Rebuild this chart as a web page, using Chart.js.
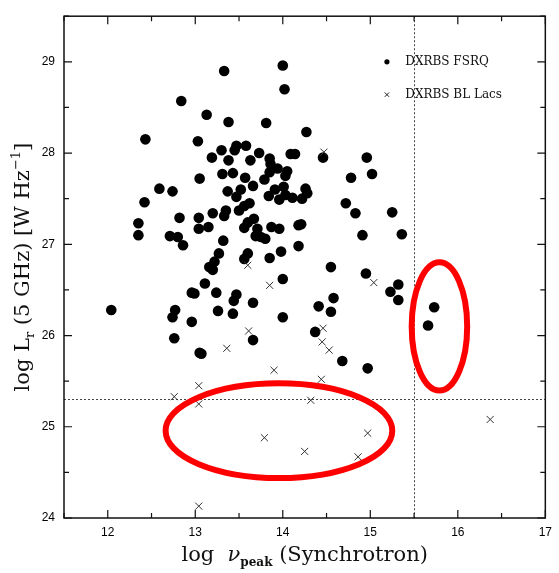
<!DOCTYPE html>
<html>
<head>
<meta charset="utf-8">
<script src="https://cdn.jsdelivr.net/npm/chart.js@4.4.1/dist/chart.umd.min.js"></script>
<style>
  html, body { margin: 0; padding: 0; background: #fff; }
  canvas { display: block; }
</style>
</head>
<body>
<canvas id="chart" width="559" height="573"></canvas>
<script>
// DXRBS FSRQs: log synchrotron peak frequency and log 5 GHz radio luminosity
const fsrqLogNu = [
  12.04, 12.35, 12.35, 12.42, 12.43, 12.59, 12.74, 12.71, 12.82, 12.80,
  12.86, 12.84, 12.77, 12.74, 12.76, 12.96, 12.96, 12.99, 13.03, 13.05,
  13.04, 13.04, 13.05, 13.07, 13.13, 13.11, 13.15, 13.16, 13.20, 13.22,
  13.27, 13.20, 13.19, 13.24, 13.26, 13.32, 13.30, 13.31, 13.33, 13.33,
  13.35, 13.38, 13.37, 13.38, 13.43, 13.43, 13.44, 13.47, 13.45, 13.47,
  13.47, 13.52, 13.50, 13.56, 13.62, 13.56, 13.57, 13.58, 13.63, 13.60,
  13.67, 13.66, 13.60, 13.56, 13.66, 13.66, 13.71, 13.69, 13.75, 13.80,
  13.73, 13.79, 13.81, 13.84, 13.85, 13.86, 13.85, 13.85, 13.87, 13.91,
  13.96, 13.96, 13.94, 13.98, 14.00, 14.00, 14.00, 14.02, 14.01, 14.03,
  14.05, 14.03, 14.09, 14.14, 14.11, 14.18, 14.18, 14.21, 14.22, 14.26,
  14.28, 14.27, 14.37, 14.41, 14.46, 14.55, 14.55, 14.58, 14.68, 14.72,
  14.78, 14.83, 14.91, 14.96, 14.95, 14.97, 15.02, 15.25, 15.23, 15.32,
  15.32, 15.36, 15.73, 15.66
];
const fsrqLogL = [
  26.28, 27.23, 27.10, 27.46, 28.15, 27.61, 27.58, 27.09, 27.29, 27.08,
  26.99, 28.57, 26.28, 26.20, 25.97, 26.15, 26.47, 26.46, 28.13, 27.72,
  27.29, 27.17, 25.81, 25.80, 28.42, 26.57, 27.19, 26.75, 26.72, 26.81,
  26.90, 27.34, 27.95, 26.47, 26.27, 27.04, 28.03, 27.77, 28.90, 27.31,
  27.37, 28.34, 27.58, 27.92, 27.78, 26.24, 26.38, 26.45, 28.03, 28.08,
  27.52, 27.60, 27.37, 27.42, 27.45, 27.18, 27.73, 28.08, 27.92, 27.24,
  27.28, 27.64, 26.90, 26.84, 26.36, 25.95, 27.17, 27.09, 27.08, 27.06,
  28.00, 27.71, 28.33, 27.53, 27.94, 27.88, 27.79, 26.85, 27.19, 27.60,
  27.49, 27.17, 27.83, 26.92, 26.62, 26.20, 28.96, 28.70, 27.63, 27.54,
  27.80, 27.75, 27.99, 27.99, 27.51, 26.98, 27.21, 27.22, 27.50, 27.61,
  27.56, 28.23, 26.04, 26.32, 27.95, 26.75, 26.26, 26.41, 25.72, 27.45,
  27.73, 27.34, 27.10, 27.95, 26.68, 25.64, 27.77, 27.35, 26.48, 26.56,
  26.39, 27.11, 26.31, 26.11
];

// DXRBS BL Lacs
const bllacLogNu = [
  14.47, 13.60, 13.85, 15.04, 13.61, 13.36, 14.46, 14.45, 14.53, 13.90,
  14.44, 13.04, 12.76, 13.04, 14.32, 13.79, 14.25, 14.86, 14.97, 16.37,
  13.04
];
const bllacLogL = [
  28.01, 26.77, 26.55, 26.58, 26.05, 25.86, 26.08, 25.93, 25.84, 25.62,
  25.52, 25.45, 25.33, 25.25, 25.29, 24.88, 24.73, 24.67, 24.93, 25.08,
  24.13
];

const seriesNames = ['DXRBS FSRQ', 'DXRBS BL Lacs'];
const xTickLabels = ['12', '13', '14', '15', '16', '17'];
const yTickLabels = ['24', '25', '26', '27', '28', '29'];

// dividing lines in frequency and luminosity
const nuDivide = 15.5;
const lumDivide = 25.3;

// highlighted groups (centre and semi-axes in data units)
const highlightRegions = [
  { cx: 13.956, cy: 24.957, rx: 1.295, ry: 0.519 },
  { cx: 15.79, cy: 26.10, rx: 0.317, ry: 0.702 }
];

const SERIF = '"DejaVu Serif", "Liberation Serif", serif';
const SANS = '"Liberation Sans", Arial, sans-serif';

function toPoints(xs, ys) {
  return xs.map((x, i) => ({ x: x, y: ys[i] }));
}

function isWhole(v) {
  return Math.abs(v - Math.round(v)) < 1e-6;
}

// draws a line of text made of segments with different fonts / offsets, centred at cx
function drawRich(ctx, segs, cx, baseline) {
  let total = 0;
  segs.forEach(s => { ctx.font = s.font; s.w = ctx.measureText(s.text).width; total += s.w; });
  let x = cx - total / 2;
  ctx.textAlign = 'left';
  ctx.textBaseline = 'alphabetic';
  segs.forEach(s => {
    ctx.font = s.font;
    ctx.fillText(s.text, x, baseline + (s.dy || 0));
    x += s.w;
  });
}

const decorations = {
  id: 'decorations',
  beforeDraw(chart) {
    const ctx = chart.ctx;
    ctx.save();
    ctx.fillStyle = '#fff';
    ctx.fillRect(0, 0, chart.width, chart.height);
    ctx.restore();
  },
  beforeDatasetsDraw(chart) {
    const { ctx, chartArea: a, scales: { x, y } } = chart;
    ctx.save();
    ctx.strokeStyle = '#444';
    ctx.lineWidth = 1;
    ctx.setLineDash([2, 2]);
    const px = Math.round(x.getPixelForValue(nuDivide)) + 0.5;
    const py = Math.round(y.getPixelForValue(lumDivide)) + 0.5;
    ctx.beginPath();
    ctx.moveTo(px, a.top); ctx.lineTo(px, a.bottom);
    ctx.moveTo(a.left, py); ctx.lineTo(a.right, py);
    ctx.stroke();
    ctx.restore();
  },
  afterDraw(chart) {
    const { ctx, chartArea: a, scales: { x, y } } = chart;
    ctx.save();

    // frame
    ctx.strokeStyle = '#111';
    ctx.lineWidth = 1.5;
    ctx.strokeRect(a.left, a.top, a.right - a.left, a.bottom - a.top);

    // inward tick marks on all four sides
    ctx.lineWidth = 1.2;
    ctx.beginPath();
    x.ticks.forEach(t => {
      const len = isWhole(t.value) ? 8 : 5;
      const px = x.getPixelForValue(t.value);
      ctx.moveTo(px, a.bottom); ctx.lineTo(px, a.bottom - len);
      ctx.moveTo(px, a.top); ctx.lineTo(px, a.top + len);
    });
    y.ticks.forEach(t => {
      const len = isWhole(t.value) ? 8 : 5;
      const py = y.getPixelForValue(t.value);
      ctx.moveTo(a.left, py); ctx.lineTo(a.left + len, py);
      ctx.moveTo(a.right, py); ctx.lineTo(a.right - len, py);
    });
    ctx.stroke();

    // legend
    const lx = x.getPixelForValue(15.19);
    const tx = x.getPixelForValue(15.40);
    const ly1 = y.getPixelForValue(29.0);
    const ly2 = y.getPixelForValue(28.64);
    ctx.fillStyle = '#000';
    ctx.beginPath();
    ctx.arc(lx, ly1, 2.6, 0, Math.PI * 2);
    ctx.fill();
    ctx.strokeStyle = '#222';
    ctx.lineWidth = 1;
    ctx.beginPath();
    ctx.moveTo(lx - 2.2, ly2 - 2.2); ctx.lineTo(lx + 2.2, ly2 + 2.2);
    ctx.moveTo(lx - 2.2, ly2 + 2.2); ctx.lineTo(lx + 2.2, ly2 - 2.2);
    ctx.stroke();
    ctx.fillStyle = '#111';
    ctx.font = '12px ' + SERIF;
    ctx.textAlign = 'left';
    ctx.textBaseline = 'middle';
    ctx.fillText(seriesNames[0], tx, ly1);
    ctx.fillText(seriesNames[1], tx, ly2);

    // axis titles
    ctx.fillStyle = '#111';
    const big = '21px ' + SERIF;
    const small = 'bold 12px ' + SERIF;
    const smallN = '13px ' + SERIF;
    drawRich(ctx, [
      { text: 'log  ', font: big },
      { text: 'ν', font: 'italic 21px ' + SERIF },
      { text: 'peak', font: small, dy: 5 },
      { text: ' (Synchrotron)', font: big }
    ], (a.left + a.right) / 2, 561);

    ctx.save();
    ctx.translate(29, (a.top + a.bottom) / 2);
    ctx.rotate(-Math.PI / 2);
    drawRich(ctx, [
      { text: 'log L', font: big },
      { text: 'r', font: smallN, dy: 5 },
      { text: ' (5 GHz) [W Hz', font: big },
      { text: '−1', font: smallN, dy: -9 },
      { text: ']', font: big }
    ], 0, 0);
    ctx.restore();

    // highlighted groups
    ctx.strokeStyle = '#ff0000';
    ctx.lineWidth = 6;
    highlightRegions.forEach(r => {
      const cx = x.getPixelForValue(r.cx);
      const cy = y.getPixelForValue(r.cy);
      const rx = Math.abs(x.getPixelForValue(r.cx + r.rx) - cx);
      const ry = Math.abs(y.getPixelForValue(r.cy + r.ry) - cy);
      ctx.beginPath();
      ctx.ellipse(cx, cy, rx, ry, 0, 0, Math.PI * 2);
      ctx.stroke();
    });

    ctx.restore();
  }
};

new Chart(document.getElementById('chart'), {
  type: 'scatter',
  data: {
    datasets: [
      {
        label: seriesNames[1],
        data: toPoints(bllacLogNu, bllacLogL),
        pointStyle: 'crossRot',
        pointRadius: 5,
        borderColor: '#333',
        borderWidth: 1,
        backgroundColor: '#333'
      },
      {
        label: seriesNames[0],
        data: toPoints(fsrqLogNu, fsrqLogL),
        pointStyle: 'circle',
        pointRadius: 5.3,
        borderWidth: 0,
        backgroundColor: '#000',
        borderColor: '#000'
      }
    ]
  },
  options: {
    responsive: false,
    animation: false,
    events: [],
    layout: { padding: { top: 6, right: 9, left: 0, bottom: 0 } },
    plugins: { legend: { display: false }, tooltip: { enabled: false } },
    scales: {
      x: {
        type: 'linear',
        min: 11.5,
        max: 17,
        afterFit: s => { s.height = 55; },
        grid: { display: false, drawTicks: false },
        border: { display: false },
        ticks: {
          stepSize: 0.5,
          autoSkip: false,
          maxRotation: 0,
          padding: 7,
          color: '#000',
          font: { family: SANS, size: 12 },
          callback: v => (isWhole(v) && xTickLabels.includes(String(Math.round(v)))) ? String(Math.round(v)) : ''
        }
      },
      y: {
        type: 'linear',
        min: 24,
        max: 29.5,
        afterFit: s => { s.width = 64; },
        grid: { display: false, drawTicks: false },
        border: { display: false },
        ticks: {
          stepSize: 0.5,
          autoSkip: false,
          padding: 9,
          color: '#000',
          font: { family: SANS, size: 12 },
          callback: v => (isWhole(v) && yTickLabels.includes(String(Math.round(v)))) ? String(Math.round(v)) : ''
        }
      }
    }
  },
  plugins: [decorations]
});
</script>
</body>
</html>
